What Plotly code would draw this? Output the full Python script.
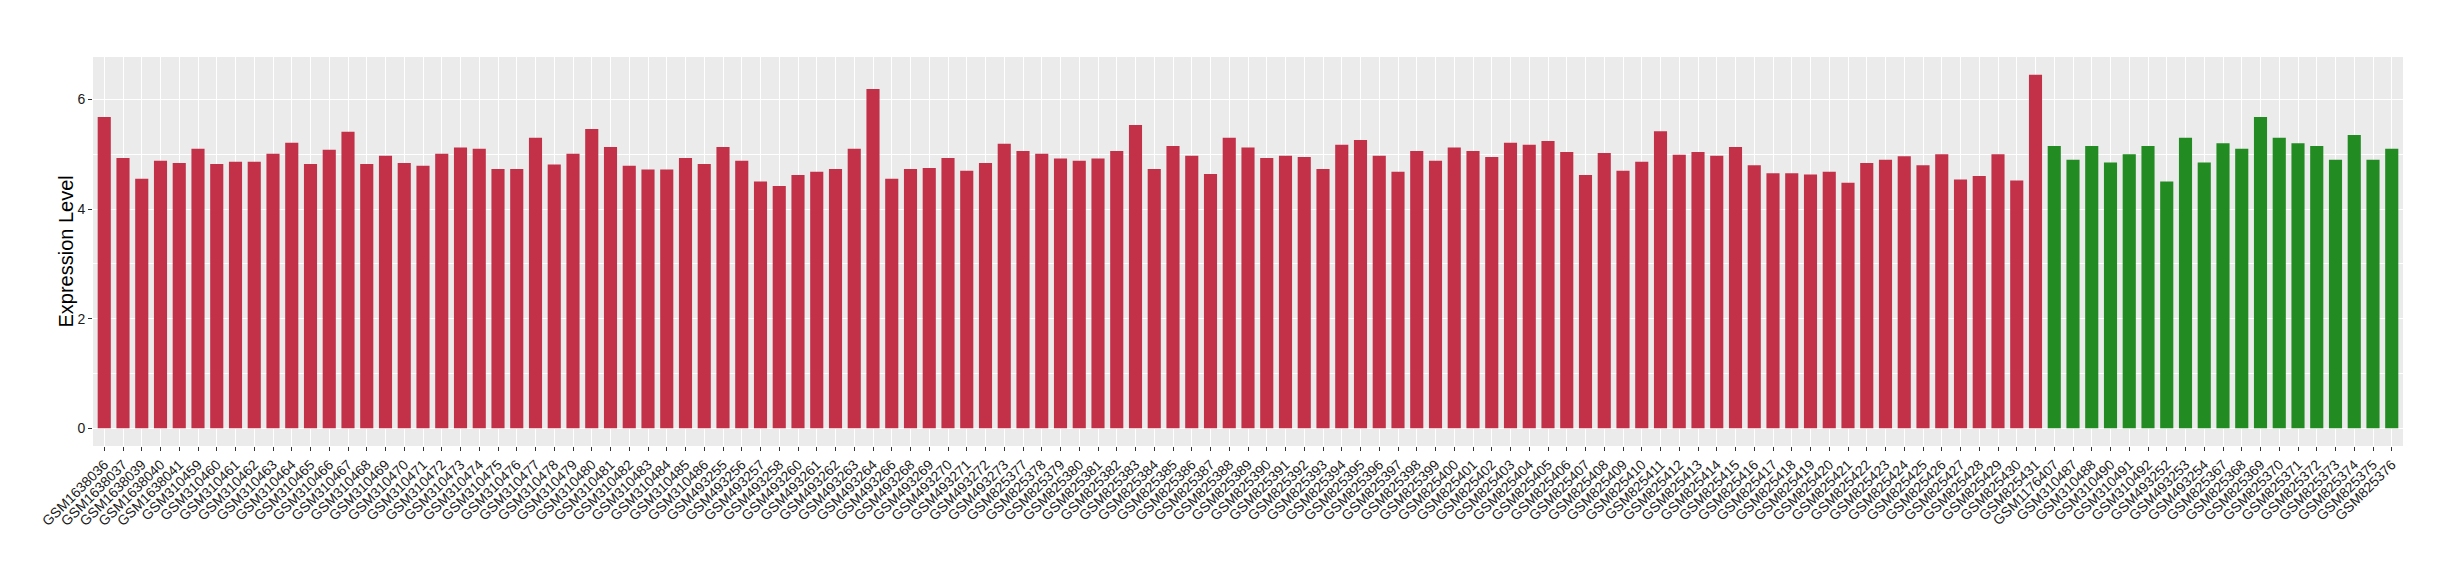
import plotly.graph_objects as go

red_samples = [
    "GSM1638036", "GSM1638037", "GSM1638039", "GSM1638040", "GSM1638041",
    "GSM310459", "GSM310460", "GSM310461", "GSM310462", "GSM310463", "GSM310464", "GSM310465",
    "GSM310466", "GSM310467", "GSM310468", "GSM310469", "GSM310470", "GSM310471", "GSM310472",
    "GSM310473", "GSM310474", "GSM310475", "GSM310476", "GSM310477", "GSM310478", "GSM310479",
    "GSM310480", "GSM310481", "GSM310482", "GSM310483", "GSM310484", "GSM310485", "GSM310486",
    "GSM493255", "GSM493256", "GSM493257", "GSM493258", "GSM493260", "GSM493261", "GSM493262",
    "GSM493263", "GSM493264", "GSM493266", "GSM493268", "GSM493269", "GSM493270", "GSM493271",
    "GSM493272", "GSM493273",
    "GSM825377", "GSM825378", "GSM825379", "GSM825380", "GSM825381", "GSM825382", "GSM825383",
    "GSM825384", "GSM825385", "GSM825386", "GSM825387", "GSM825388", "GSM825389", "GSM825390",
    "GSM825391", "GSM825392", "GSM825393", "GSM825394", "GSM825395", "GSM825396", "GSM825397",
    "GSM825398", "GSM825399", "GSM825400", "GSM825401", "GSM825402", "GSM825403", "GSM825404",
    "GSM825405", "GSM825406", "GSM825407", "GSM825408", "GSM825409", "GSM825410", "GSM825411",
    "GSM825412", "GSM825413", "GSM825414", "GSM825415", "GSM825416", "GSM825417", "GSM825418",
    "GSM825419", "GSM825420", "GSM825421", "GSM825422", "GSM825423", "GSM825424", "GSM825425",
    "GSM825426", "GSM825427", "GSM825428", "GSM825429", "GSM825430", "GSM825431",
]
red_values = [
    5.68, 4.93, 4.55, 4.88, 4.84, 5.10, 4.82, 4.86, 4.86, 5.01, 5.21, 4.82, 5.08, 5.41, 4.82, 4.97, 4.84, 4.79,
    5.01, 5.12, 5.10, 4.73, 4.73, 5.30, 4.81, 5.01, 5.46, 5.13, 4.79, 4.72, 4.72, 4.93, 4.82, 5.13, 4.88, 4.50,
    4.42, 4.62, 4.68, 4.73, 5.10, 6.19, 4.55, 4.73, 4.75, 4.93, 4.70, 4.84, 5.19, 5.06, 5.01, 4.92, 4.88,
    4.92, 5.06, 5.53, 4.73, 5.15, 4.97, 4.64, 5.30, 5.12, 4.93, 4.97, 4.95, 4.73, 5.17, 5.26, 4.97, 4.68, 5.06,
    4.88, 5.12, 5.06, 4.95, 5.21, 5.17, 5.24, 5.04, 4.62, 5.02, 4.70, 4.86, 5.42, 4.99, 5.04, 4.97, 5.13,
    4.80, 4.65, 4.65, 4.63, 4.68, 4.48, 4.84, 4.90, 4.96, 4.80, 5.00, 4.54, 4.60, 5.00, 4.52, 6.45,
]

green_samples = [
    "GSM1176407", "GSM310487", "GSM310488", "GSM310490", "GSM310491", "GSM310492",
    "GSM493252", "GSM493253", "GSM493254",
    "GSM825367", "GSM825368", "GSM825369", "GSM825370", "GSM825371", "GSM825372",
    "GSM825373", "GSM825374", "GSM825375", "GSM825376",
]
green_values = [
    5.15, 4.90, 5.15, 4.85, 5.00, 5.15, 4.50, 5.30, 4.85, 5.20,
    5.10, 5.68, 5.30, 5.20, 5.15, 4.90, 5.35, 4.90, 5.10,
]

y_ticks = [0, 2, 4, 6]
y_title = "Expression Level"

RED = "#C33149"
GREEN = "#228B22"
FONT = "Liberation Sans, Arial, Helvetica, sans-serif"

all_samples = red_samples + green_samples
n = len(all_samples)
ymax = max(red_values + green_values)
pad = ymax * 0.05

fig = go.Figure()
fig.add_trace(go.Bar(x=red_samples, y=red_values, marker=dict(color=RED, line=dict(width=0)),
                     width=0.7, showlegend=False))
fig.add_trace(go.Bar(x=green_samples, y=green_values, marker=dict(color=GREEN, line=dict(width=0)),
                     width=0.7, showlegend=False))

fig.update_layout(
    width=2460, height=580,
    margin=dict(l=93, r=57, t=57, b=134),
    paper_bgcolor="white",
    plot_bgcolor="#EBEBEB",
    font=dict(family=FONT, color="#1a1a1a"),
    bargap=0.3,
)
fig.update_xaxes(
    type="category",
    categoryorder="array", categoryarray=all_samples,
    range=[-0.6, n - 1 + 0.6],
    tickangle=-45,
    tickfont=dict(size=14, color="#1a1a1a", family=FONT),
    ticks="outside", ticklen=4, tickwidth=1, tickcolor="#333333",
    showgrid=True, gridcolor="white", gridwidth=1.1,
    showline=False, zeroline=False, automargin=False,
)
fig.update_yaxes(
    range=[-pad, ymax + pad],
    tickvals=y_ticks,
    tickfont=dict(size=14, color="#1a1a1a", family=FONT),
    ticks="outside", ticklen=4, tickwidth=1, tickcolor="#333333",
    showgrid=True, gridcolor="white", gridwidth=1.1,
    minor=dict(dtick=1, tick0=0, showgrid=True, gridcolor="white", gridwidth=0.55, ticks=""),
    showline=False, zeroline=False, automargin=False,
)
fig.add_annotation(
    text=y_title, xref="paper", yref="paper", x=0, y=0.5,
    xanchor="center", yanchor="middle", xshift=-28, textangle=-90,
    showarrow=False, font=dict(size=20, color="#000000", family=FONT),
)

fig.write_html(
    "out.html",
    config={"displayModeBar": False},
    post_script="document.body.style.margin='0';document.body.style.overflow='hidden';",
)
